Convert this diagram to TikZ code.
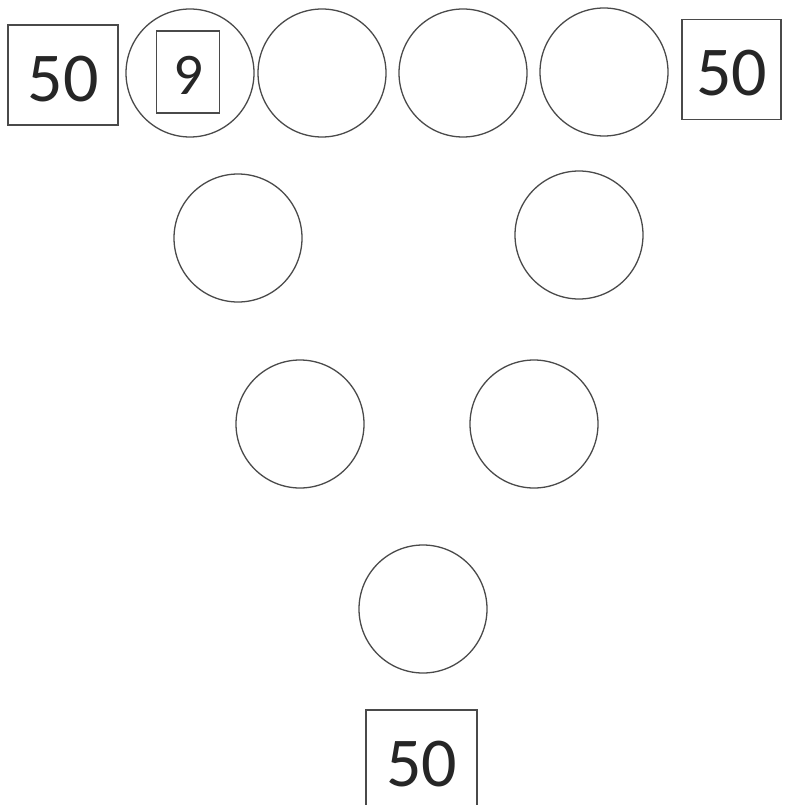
\documentclass[tikz,border=0pt]{standalone}
\usepackage{fontspec}
\setmainfont{Carlito}
\definecolor{inkgray}{HTML}{4A4A4A}

\begin{document}
\begin{tikzpicture}[x=1pt,y=-1pt,
        numbox/.style={rectangle,draw=inkgray,line width=1.3pt,inner sep=0pt,
                       minimum width=110pt,minimum height=100pt,
                       text height=53pt,text depth=0pt,
                       font=\fontsize{70}{70}\selectfont,text=black!85},
        smallbox/.style={rectangle,draw=inkgray,line width=1.3pt,inner sep=0pt,
                       minimum width=63pt,minimum height=82pt,
                       text height=46pt,text depth=0pt,
                       font=\fontsize{59}{59}\selectfont,text=black!85},
        ring/.style={circle,draw=inkgray,line width=1.3pt,minimum size=128pt,inner sep=0pt}]
      \useasboundingbox (0,0) rectangle (784,805);
      \clip (0,0) rectangle (784,805);
      % top row
      \node[numbox]  (left)  at (63,75)  {50};
      \node[ring]    (c1)    at (190,73) {};
      \node[smallbox](nine)  at (188,72) {9};
      \node[ring]    (c2)    at (322,73) {};
      \node[ring]    (c3)    at (463,73) {};
      \node[ring]    (c4)    at (604,72) {};
      \node[numbox,minimum width=99pt] (right) at (731.5,69.5) {50};
      % down the sides
      \node[ring]    (c5)    at (238,238) {};
      \node[ring]    (c6)    at (579,235) {};
      \node[ring]    (c7)    at (300,424) {};
      \node[ring]    (c8)    at (534,424) {};
      \node[ring]    (c9)    at (423,609) {};
      % bottom
      \node[numbox,minimum width=111pt] (bottom) at (421.5,760) {50};
    \end{tikzpicture}
\end{document}
